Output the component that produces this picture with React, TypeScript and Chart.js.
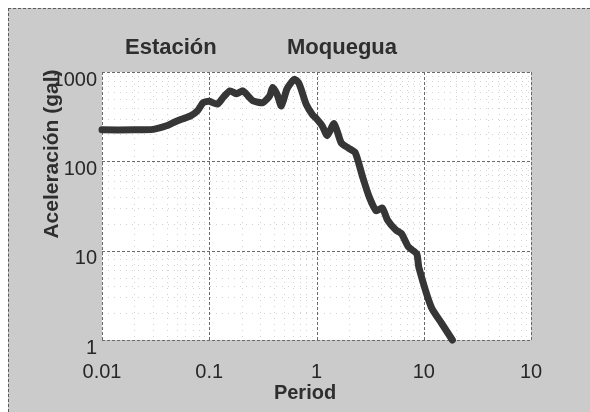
import { useEffect, useRef } from "react";
import { Chart, registerables } from "chart.js";

Chart.register(...registerables);

// ---- data ----
const periods = [
  0.01, 0.02, 0.03, 0.04, 0.046, 0.055, 0.067, 0.078, 0.088, 0.1,
  0.119, 0.135, 0.156, 0.18, 0.206, 0.23, 0.256, 0.316, 0.366, 0.39,
  0.43, 0.47, 0.53, 0.6, 0.625, 0.68, 0.72, 0.8, 0.92, 1.0,
  1.13, 1.26, 1.46, 1.7, 2.0, 2.3, 2.7, 3.1, 3.6, 4.1,
  4.6, 5.5, 6.2, 7.2, 8.6, 9.0, 11.8, 14.6, 18.5,
];
const accelerations = [
  225, 225, 228, 250, 270, 295, 323, 370, 455, 470,
  437, 520, 615, 570, 615, 540, 475, 455, 540, 670,
  560, 417, 645, 800, 830, 760, 640, 437, 330, 300,
  250, 194, 265, 161, 140, 125, 66, 40, 28, 30,
  22, 17, 15.5, 11, 9.2, 6.5, 2.3, 1.55, 1.0,
];
const xTickValues = [0.01, 0.1, 1, 10, 100];
const xTickLabels = ["0.01", "0.1", "1", "10", "10"];
const yTickValues = [1, 10, 100, 1000];
const yTickLabels = ["1", "10", "100", "1000"];
const titleLeft = "Estación";
const titleRight = "Moquegua";
const xAxisTitle = "Period";
const yAxisTitle = "Aceleración (gal)";

const FONT = "'Liberation Sans', Arial, Helvetica, sans-serif";
const TEXT = "#272727";

const decorPlugin = {
  id: "decor",
  beforeDraw(chart: any) {
    const { ctx, chartArea: a } = chart;
    ctx.save();
    ctx.fillStyle = "#ffffff";
    ctx.fillRect(a.left, a.top, a.right - a.left, a.bottom - a.top);
    ctx.restore();
  },
  beforeDatasetsDraw(chart: any) {
    const { ctx, chartArea: a, scales } = chart;
    const xs = scales.x;
    const ys = scales.y;
    ctx.save();
    // minor grid
    ctx.strokeStyle = "#d2d2d2";
    ctx.lineWidth = 1;
    ctx.setLineDash([1, 5]);
    for (let n = -2; n < 2; n++) {
      for (let k = 2; k < 10; k++) {
        const px = Math.round(xs.getPixelForValue(k * Math.pow(10, n))) + 0.5;
        ctx.beginPath();
        ctx.moveTo(px, a.top);
        ctx.lineTo(px, a.bottom);
        ctx.stroke();
      }
    }
    for (let n = 0; n < 3; n++) {
      for (let k = 2; k < 10; k++) {
        const py = Math.round(ys.getPixelForValue(k * Math.pow(10, n))) + 0.5;
        ctx.beginPath();
        ctx.moveTo(a.left, py);
        ctx.lineTo(a.right, py);
        ctx.stroke();
      }
    }
    // major grid
    ctx.strokeStyle = "#6a6a6a";
    ctx.setLineDash([3, 2]);
    xTickValues.forEach((v) => {
      const px = Math.round(xs.getPixelForValue(v)) + 0.5;
      ctx.beginPath();
      ctx.moveTo(px, a.top);
      ctx.lineTo(px, a.bottom);
      ctx.stroke();
    });
    yTickValues.forEach((v) => {
      const py = Math.round(ys.getPixelForValue(v)) + 0.5;
      ctx.beginPath();
      ctx.moveTo(a.left, py);
      ctx.lineTo(a.right, py);
      ctx.stroke();
    });
    ctx.restore();
  },
  afterDraw(chart: any) {
    const { ctx } = chart;
    ctx.save();
    ctx.fillStyle = "#2e2e2e";
    ctx.textBaseline = "alphabetic";
    ctx.textAlign = "left";
    ctx.font = `bold 22px ${FONT}`;
    ctx.fillText(titleLeft, 116, 45);
    ctx.fillText(titleRight, 278, 45);
    ctx.font = `bold 20px ${FONT}`;
    ctx.textAlign = "center";
    ctx.textBaseline = "middle";
    ctx.fillText(xAxisTitle, 296, 384);
    ctx.font = `bold 21px ${FONT}`;
    ctx.translate(43, 145);
    ctx.rotate(-Math.PI / 2);
    ctx.fillText(yAxisTitle, 0, 0);
    ctx.restore();
  },
};

export default function App() {
  const ref = useRef<HTMLCanvasElement | null>(null);

  useEffect(() => {
    if (!ref.current) return;
    const chart = new Chart(ref.current, {
      type: "line",
      data: {
        datasets: [
          {
            data: periods.map((p, i) => ({ x: p, y: accelerations[i] })),
            borderColor: "#363636",
            borderWidth: 7,
            pointRadius: 0,
            tension: 0.2,
            borderCapStyle: "round",
            borderJoinStyle: "round",
            fill: false,
            clip: false as any,
          },
        ],
      },
      options: {
        animation: false,
        responsive: true,
        maintainAspectRatio: false,
        layout: { padding: { left: 0, top: 63, right: 59, bottom: 0 } },
        plugins: { legend: { display: false }, title: { display: false }, tooltip: { enabled: false } },
        scales: {
          x: {
            type: "logarithmic",
            min: 0.01,
            max: 100,
            afterBuildTicks: (s: any) => {
              s.ticks = xTickValues.map((v) => ({ value: v }));
            },
            afterFit: (s: any) => {
              s.height = 72;
            },
            grid: { display: false, drawTicks: false },
            border: { display: false },
            ticks: {
              autoSkip: false,
              maxRotation: 0,
              padding: 20,
              color: TEXT,
              font: { family: FONT, size: 20 },
              callback: (_v: any, i: number) => xTickLabels[i],
            },
          },
          y: {
            type: "logarithmic",
            min: 1,
            max: 1000,
            afterBuildTicks: (s: any) => {
              s.ticks = yTickValues.map((v) => ({ value: v }));
            },
            afterFit: (s: any) => {
              s.width = 93;
            },
            grid: { display: false, drawTicks: false },
            border: { display: false },
            ticks: {
              autoSkip: false,
              padding: 5,
              labelOffset: 8,
              color: TEXT,
              font: { family: FONT, size: 20 },
              callback: (_v: any, i: number) => yTickLabels[i],
            },
          },
        },
      },
      plugins: [decorPlugin],
    } as any);
    return () => chart.destroy();
  }, []);

  return (
    <div
      style={{
        position: "absolute",
        left: 8,
        top: 8,
        right: 0,
        bottom: 0,
        background: "#cbcbcb",
        borderTop: "1px dashed #5a5a5a",
        borderLeft: "1px dashed #5a5a5a",
        boxSizing: "border-box",
      }}
    >
      <canvas ref={ref} />
    </div>
  );
}
